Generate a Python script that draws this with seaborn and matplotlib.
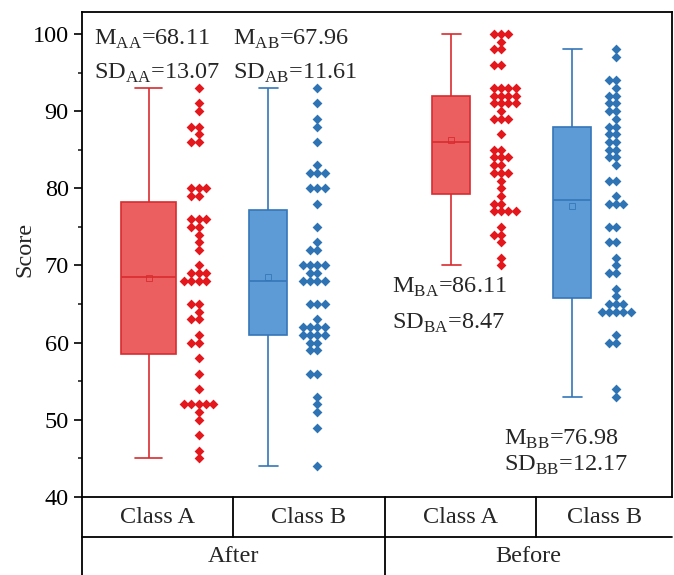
import numpy as np
import pandas as pd
import matplotlib
matplotlib.use('Agg')
import matplotlib.pyplot as plt
from matplotlib.ticker import MultipleLocator
import seaborn as sns

# scores (one list per group)
after_a = [93, 91, 90, 88, 88, 87, 86, 86, 80, 80, 80, 79, 79, 76, 76, 76, 75, 75, 74, 73,
           72, 70, 69, 69, 69, 68, 68, 68, 68, 65, 65, 64, 63, 63, 61, 60, 60, 58, 56, 54,
           52, 52, 52, 52, 52, 51, 50, 48, 46, 45]
after_b = [93, 91, 89, 88, 86, 83, 82, 82, 82, 80, 80, 80, 78, 75, 73, 72, 72, 70, 70, 70,
           70, 69, 69, 68, 68, 68, 68, 65, 65, 65, 63, 62, 62, 62, 62, 61, 61, 61, 61, 60,
           60, 59, 59, 56, 56, 53, 52, 51, 49, 44]
before_a = [100, 100, 100, 99, 98, 98, 96, 96, 93, 93, 93, 93, 92, 92, 92, 92, 91, 91, 91, 91,
            90, 89, 89, 89, 87, 85, 85, 84, 84, 84, 83, 83, 82, 82, 82, 81, 80, 79, 78, 78,
            77, 77, 77, 77, 75, 74, 74, 73, 71, 70]
before_b = [98, 97, 94, 94, 93, 92, 92, 91, 91, 90, 90, 89, 88, 88, 87, 87, 86, 86, 85, 85,
            84, 84, 83, 81, 81, 79, 78, 78, 78, 75, 75, 73, 73, 71, 70, 69, 69, 67, 66, 65,
            65, 65, 64, 64, 64, 64, 64, 61, 60, 60, 54, 53]

classes = ['Class A', 'Class B', 'Class A', 'Class B']
phases = ['After', 'Before']
subs = ['AA', 'AB', 'BA', 'BB']
means = ['68.11', '67.96', '86.11', '76.98']
sds = ['13.07', '11.61', '8.47', '12.17']

sns.set_style('ticks')
plt.rcParams['font.family'] = 'serif'
plt.rcParams['font.serif'] = ['Liberation Serif', 'DejaVu Serif']
plt.rcParams['mathtext.fontset'] = 'custom'
plt.rcParams['mathtext.rm'] = 'Liberation Serif'
plt.rcParams['font.size'] = 17.5

red_fill, red_edge, red_dot = '#ec5f61', '#d92b2e', '#e3171c'
blue_fill, blue_edge, blue_dot = '#5d9bd6', '#3476b8', '#2e74b5'
styles = [(red_fill, red_edge, red_dot), (blue_fill, blue_edge, blue_dot)] * 2

# x units: one table cell = 1
box_x = [0.44, 1.23, 2.44, 3.24]
dot_x = [0.77, 1.555, 2.77, 3.53]
box_w = [0.36, 0.25, 0.25, 0.25]

fig = plt.figure(figsize=(6.74, 5.75), dpi=100)
ax = fig.add_axes([0.1217, 0.1357, 0.8755, 0.8435])

for i, scores in enumerate([after_a, after_b, before_a, before_b]):
    fill, edge, dot = styles[i]
    d = pd.DataFrame({'x': np.full(len(scores), box_x[i]), 'score': scores})
    sns.boxplot(data=d, x='x', y='score', orient='x', native_scale=True, width=box_w[i],
                whis=(0, 100), showfliers=False, showmeans=True, color=fill, linecolor=edge,
                saturation=1, linewidth=1.2,
                meanprops=dict(marker='s', markerfacecolor='none', markeredgecolor=edge,
                               markersize=4, markeredgewidth=0.6),
                ax=ax)
    d2 = pd.DataFrame({'x': np.full(len(scores), dot_x[i]), 'score': scores})
    sns.swarmplot(data=d2, x='x', y='score', orient='x', native_scale=True, marker='D',
                  size=5, color=dot, linewidth=0, warn_thresh=1, ax=ax)

# annotations
txt_x = [0.08, 1.0, 2.05, 2.79]
txt_y = [(98.6, 94.2), (98.6, 94.2), (66.45, 61.8), (46.8, 43.4)]
for i in range(4):
    ax.text(txt_x[i], txt_y[i][0], r'M$_{\mathrm{%s}}$=%s' % (subs[i], means[i]),
            va='baseline', ha='left', fontsize=17.5)
    ax.text(txt_x[i], txt_y[i][1], r'SD$_{\mathrm{%s}}$=%s' % (subs[i], sds[i]),
            va='baseline', ha='left', fontsize=17.5)

ax.set_xlim(0, 3.9)
ax.set_ylim(40, 102.85)
ax.yaxis.set_major_locator(MultipleLocator(10))
ax.yaxis.set_minor_locator(MultipleLocator(5))
ax.tick_params(axis='y', which='major', length=6, width=1.2, labelsize=17.5, colors='black')
ax.tick_params(axis='y', which='minor', length=3, width=1.2)
ax.set_xticks([])
ax.set_xlabel('')
ax.set_ylabel('Score', fontsize=17.5)
ax.yaxis.set_label_coords(-0.079, 0.51)
for s in ax.spines.values():
    s.set_visible(True)
    s.set_linewidth(1.3)
    s.set_color('black')

# category table under the axis
tr = ax.get_xaxis_transform()
row1 = -40 / 485
row2 = -0.17
kw = dict(color='black', lw=1.3, transform=tr, clip_on=False)
ax.plot([0, 0], [0, row2], **kw)
ax.plot([0, 3.9], [row1, row1], **kw)
for xv in [1, 2, 3]:
    ax.plot([xv, xv], [0, row1], **kw)
ax.plot([2, 2], [row1, row2], **kw)
cell_x = [0.5, 1.5, 2.5, 3.45]
for xv, lab in zip(cell_x, classes):
    ax.text(xv, -21 / 485, lab, transform=tr, ha='center', va='center', fontsize=17.5)
for xv, lab in zip([1.0, 2.95], phases):
    ax.text(xv, -60 / 485, lab, transform=tr, ha='center', va='center', fontsize=17.5)

fig.savefig('out.png', dpi=100)
